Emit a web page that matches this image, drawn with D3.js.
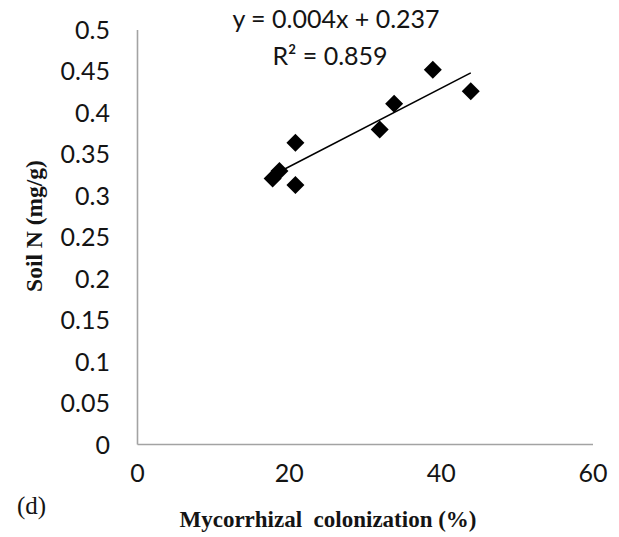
<!DOCTYPE html>
<html>
<head>
<meta charset="utf-8">
<script src="https://cdn.jsdelivr.net/npm/d3@7"></script>
<style>
  html, body { margin: 0; padding: 0; background: #fff; }
  svg { display: block; }
</style>
</head>
<body>
<svg id="chart" width="619" height="537"></svg>
<script>
// Soil N against mycorrhizal colonization, one point per plot
const colonization = [17.8, 18.7, 20.8, 20.8, 31.9, 33.8, 38.9, 43.9];
const soilN        = [0.321, 0.330, 0.313, 0.364, 0.380, 0.411, 0.452, 0.426];

const xTicks = [0, 20, 40, 60];
const yTicks = [0, 0.05, 0.1, 0.15, 0.2, 0.25, 0.3, 0.35, 0.4, 0.45, 0.5];

const equationText = "y = 0.004x + 0.237";
const r2Text = "R\u00B2 = 0.859";
const panelLabel = "(d)";
const xTitle = "Mycorrhizal  colonization (%)";
const yTitle = "Soil N (mg/g)";

const svg = d3.select("#chart");

const x = d3.scaleLinear().domain([0, 60]).range([137.5, 593]);
const y = d3.scaleLinear().domain([0, 0.5]).range([444.5, 30]);

const sans = "Lato, 'Open Sans', sans-serif";
const serif = "'Liberation Serif', 'Times New Roman', serif";
const textColor = "#141414";

// Axis lines (no tick marks)
svg.append("line")
  .attr("x1", x(0)).attr("x2", x(0))
  .attr("y1", y(0.5)).attr("y2", y(0))
  .attr("stroke", "#a3a3a3").attr("stroke-width", 1.6);
svg.append("line")
  .attr("x1", x(0)).attr("x2", x(60))
  .attr("y1", y(0)).attr("y2", y(0))
  .attr("stroke", "#a3a3a3").attr("stroke-width", 1.6);

// Y tick labels
svg.append("g").selectAll("text")
  .data(yTicks)
  .join("text")
  .attr("x", 110)
  .attr("y", d => y(d) + 9)
  .attr("text-anchor", "end")
  .attr("font-family", sans)
  .attr("font-size", 25)
  .attr("fill", textColor)
  .text(d => d3.format("")(+d.toFixed(2)));

// X tick labels, set well below the axis line
svg.append("g").selectAll("text")
  .data(xTicks)
  .join("text")
  .attr("x", d => x(d))
  .attr("y", 482)
  .attr("text-anchor", "middle")
  .attr("font-family", sans)
  .attr("font-size", 25)
  .attr("fill", textColor)
  .text(d => d);

// Linear least-squares trend line over the observed range
const pts = colonization.map((c, i) => [c, soilN[i]]);
const mx = d3.mean(colonization), my = d3.mean(soilN);
const sxy = d3.sum(pts, p => (p[0] - mx) * (p[1] - my));
const sxx = d3.sum(pts, p => (p[0] - mx) ** 2);
const slope = sxy / sxx;
const intercept = my - slope * mx;
const [xmin, xmax] = d3.extent(colonization);

svg.append("line")
  .attr("x1", x(xmin)).attr("y1", y(intercept + slope * xmin))
  .attr("x2", x(xmax)).attr("y2", y(intercept + slope * xmax))
  .attr("stroke", "#000").attr("stroke-width", 1.6);

// Diamond markers
const h = 9;
svg.append("g").selectAll("path")
  .data(pts)
  .join("path")
  .attr("transform", d => `translate(${x(d[0])},${y(d[1])})`)
  .attr("d", `M0,${-h}L${h},0L0,${h}L${-h},0Z`)
  .attr("fill", "#000");

// Regression equation and R²
svg.append("text")
  .attr("x", 336).attr("y", 28)
  .attr("text-anchor", "middle")
  .attr("font-family", sans).attr("font-size", 25)
  .attr("fill", textColor)
  .text(equationText);
svg.append("text")
  .attr("x", 330).attr("y", 65)
  .attr("text-anchor", "middle")
  .attr("font-family", sans).attr("font-size", 25)
  .attr("fill", textColor)
  .text(r2Text);

// Axis titles
svg.append("text")
  .attr("transform", "translate(42,226) rotate(-90)")
  .attr("text-anchor", "middle")
  .attr("font-family", serif).attr("font-weight", "bold").attr("font-size", 23.5)
  .attr("fill", textColor)
  .text(yTitle);

svg.append("text")
  .attr("x", 328).attr("y", 527)
  .attr("text-anchor", "middle")
  .attr("font-family", serif).attr("font-weight", "bold").attr("font-size", 23)
  .attr("fill", textColor)
  .attr("xml:space", "preserve")
  .style("white-space", "pre")
  .text(xTitle);

// Panel label
svg.append("text")
  .attr("x", 17).attr("y", 514)
  .attr("font-family", serif).attr("font-size", 25)
  .attr("fill", textColor)
  .text(panelLabel);
</script>
</body>
</html>
